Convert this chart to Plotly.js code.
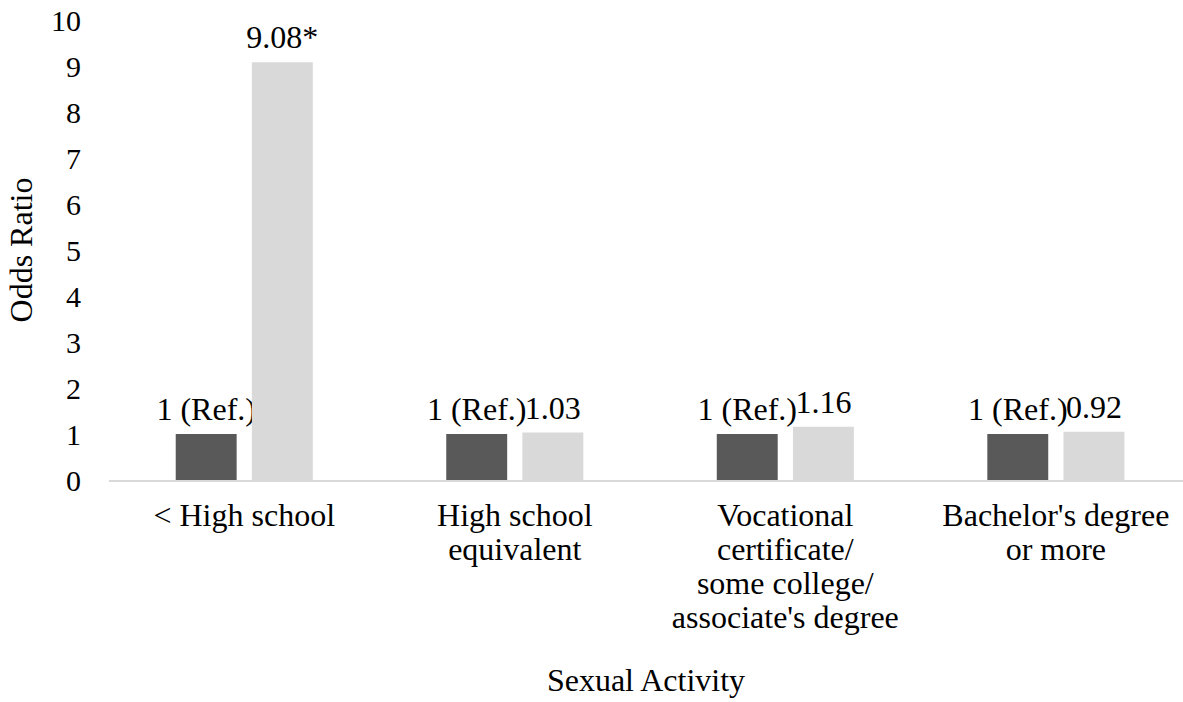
<!DOCTYPE html>
<html>
<head>
<meta charset="utf-8">
<script src="https://cdn.plot.ly/plotly-3.0.1.min.js"></script>
<style>html,body{margin:0;padding:0;background:#fff;}#chart{width:1183px;height:702px;}</style>
</head>
<body>
<div id="chart"></div>
<script>
const categories = ["&lt; High school", "High school<br>equivalent", "Vocational<br>certificate/<br>some college/<br>associate's degree", "Bachelor's degree<br>or more"];
const refValues = [1, 1, 1, 1];
const refLabels = ["1 (Ref.)", "1 (Ref.)", "1 (Ref.)", "1 (Ref.)"];
const compValues = [9.08, 1.03, 1.16, 1.05];
const compLabels = ["9.08*", "1.03", "1.16", "0.92"];
const yTicks = [0, 1, 2, 3, 4, 5, 6, 7, 8, 9, 10];

const font = "Liberation Serif";
const fs = 32;

const traces = [
  {type: "bar", x: categories, y: refValues, text: refLabels, textposition: "outside",
   textfont: {family: font, size: fs, color: "#000"}, cliponaxis: false, constraintext: "none",
   marker: {color: "#595959"}, hoverinfo: "none", name: "Reference"},
  {type: "bar", x: categories, y: compValues, text: compLabels, textposition: "outside",
   textfont: {family: font, size: fs, color: "#000"}, cliponaxis: false, constraintext: "none",
   marker: {color: "#d9d9d9"}, hoverinfo: "none", name: "Comparison"}
];

const layout = {
  width: 1183, height: 702,
  margin: {l: 109, r: 0, t: 20, b: 222},
  paper_bgcolor: "#fff", plot_bgcolor: "#fff",
  showlegend: false,
  barmode: "group", bargap: 0.437, bargroupgap: 0.2,
  font: {family: font, size: fs, color: "#000"},
  xaxis: {
    range: [-0.5, 3.47], showgrid: false, zeroline: false,
    showline: true, linecolor: "#d9d9d9", linewidth: 1.5,
    ticks: "", tickfont: {family: font, size: fs, color: "#000"},
    ticklabelstandoff: 6,
    title: {text: "Sexual Activity", font: {family: font, size: fs, color: "#000"}, standoff: 12}
  },
  yaxis: {
    range: [0, 10], tickvals: yTicks, showgrid: false, zeroline: false, showline: false,
    ticks: "", tickfont: {family: font, size: 30, color: "#000"},
    ticklabelstandoff: 27,
    title: {text: "Odds Ratio", font: {family: font, size: fs, color: "#000"}, standoff: 8}
  }
};

Plotly.newPlot("chart", traces, layout, {displayModeBar: false, staticPlot: true}).then(function (gd) {
  // tighten multi-line category label spacing to match the reference
  var factor = 34 / (1.3 * fs);
  gd.querySelectorAll('.xtick text tspan.line').forEach(function (t) {
    var dy = t.getAttribute('dy');
    if (dy && /em$/.test(dy)) t.setAttribute('dy', (parseFloat(dy) * factor) + 'em');
  });
  // lift bar value labels slightly, as in the reference
  gd.querySelectorAll('.bars .point text').forEach(function (t) {
    t.setAttribute('transform', (t.getAttribute('transform') || '') + ' translate(0,-4)');
  });
});
</script>
</body>
</html>
